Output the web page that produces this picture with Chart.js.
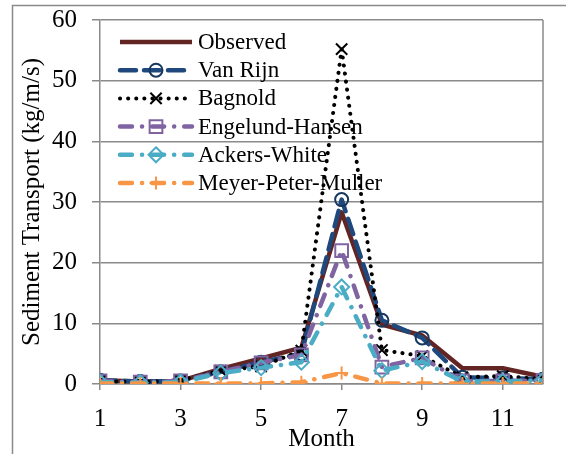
<!DOCTYPE html>
<html>
<head>
<meta charset="utf-8">
<script src="https://cdn.jsdelivr.net/npm/chart.js@4.4.1/dist/chart.umd.min.js"></script>
<style>
    html, body { margin: 0; padding: 0; background: #ffffff; }
    #wrap { width: 566px; height: 454px; }
</style>
</head>
<body>
<div id="wrap"><canvas id="chart" width="566" height="454"></canvas></div>
<script>
// sediment transport per month
const months = [1, 2, 3, 4, 5, 6, 7, 8, 9, 10, 11, 12];
const xTickMonths = [1, 3, 5, 7, 9, 11];
const yTicks = [0, 10, 20, 30, 40, 50, 60];

const observed = [0.6, 0.4, 0.5, 2.5, 4.2, 6.0, 28.3, 9.8, 8.0, 2.6, 2.6, 1.2];
const vanRijn = [0.6, 0.4, 0.5, 2.0, 3.6, 5.0, 30.4, 10.5, 7.6, 1.1, 1.0, 0.8];
const bagnold = [0.5, 0.3, 0.6, 2.2, 2.9, 5.5, 55.2, 5.6, 4.6, 1.1, 1.3, 0.8];
const engelundHansen = [0.5, 0.3, 0.5, 2.0, 3.5, 4.8, 22.0, 2.8, 4.3, 0.5, 0.5, 0.6];
const ackersWhite = [0.3, 0.2, 0.3, 1.8, 2.7, 3.6, 16.0, 2.2, 3.7, 0.4, 0.4, 0.6];
const meyerPeterMuller = [0.1, 0.1, 0.1, 0.1, 0.1, 0.3, 1.8, 0.1, 0.1, 0.1, 0.1, 0.1];

const FONT = "'Liberation Serif', 'Times New Roman', serif";
const GRID = "#8a8a8a";

const seriesDefs = [
    { label: "Observed", data: observed, color: "#632523", dash: [], marker: null },
    { label: "Van Rijn", data: vanRijn, color: "#1f497d", markerColor: "#17375e", dash: [16, 8], marker: "circle", r: 6.5 },
    { label: "Bagnold", data: bagnold, color: "#000000", dash: [0.1, 8], marker: "crossRot", r: 8, width: 4 },
    { label: "Engelund-Hansen", data: engelundHansen, color: "#8064a2", dash: [12, 10, 0.1, 10], marker: "rect", r: 9 },
    { label: "Ackers-White", data: ackersWhite, color: "#4bacc6", dash: [12, 10, 0.1, 10], marker: "rectRot", r: 7.5 },
    { label: "Meyer-Peter-Muller", data: meyerPeterMuller, color: "#f79646", dash: [12, 10, 0.1, 10], marker: "cross", r: 6.5 }
];

function drawMarker(ctx, style, x, y, r, color) {
    ctx.save();
    ctx.setLineDash([]);
    ctx.strokeStyle = color;
    ctx.lineWidth = 2;
    ctx.beginPath();
    if (style === "circle") {
        ctx.arc(x, y, r, 0, Math.PI * 2);
    } else if (style === "rect") {
        const s = r * Math.SQRT1_2;
        ctx.rect(x - s, y - s, 2 * s, 2 * s);
    } else if (style === "rectRot") {
        ctx.moveTo(x, y - r);
        ctx.lineTo(x + r, y);
        ctx.lineTo(x, y + r);
        ctx.lineTo(x - r, y);
        ctx.closePath();
    } else if (style === "crossRot") {
        const s = r * Math.SQRT1_2;
        ctx.moveTo(x - s, y - s);
        ctx.lineTo(x + s, y + s);
        ctx.moveTo(x - s, y + s);
        ctx.lineTo(x + s, y - s);
    } else if (style === "cross") {
        ctx.moveTo(x - r, y);
        ctx.lineTo(x + r, y);
        ctx.moveTo(x, y - r);
        ctx.lineTo(x, y + r);
    }
    ctx.stroke();
    ctx.restore();
}

const datasets = seriesDefs.map((s, i) => ({
    label: s.label,
    data: months.map((m, k) => ({ x: m, y: s.data[k] })),
    borderColor: s.color,
    borderWidth: s.width || 4.5,
    borderDash: s.dash,
    borderCapStyle: s.dash.length ? "round" : "butt",
    borderJoinStyle: "round",
    tension: 0,
    order: seriesDefs.length - i,
    pointStyle: s.marker || false,
    pointRadius: s.marker ? s.r : 0,
    pointBorderColor: s.markerColor || s.color,
    pointBackgroundColor: "rgba(0,0,0,0)",
    pointBorderWidth: 2
}));

const framePlugin = {
    id: "frame",
    beforeDraw(chart) {
        const { ctx } = chart;
        ctx.save();
        ctx.strokeStyle = GRID;
        ctx.lineWidth = 1.5;
        ctx.beginPath();
        ctx.moveTo(12.5, 460);
        ctx.lineTo(12.5, 5.5);
        ctx.lineTo(570, 5.5);
        ctx.stroke();
        ctx.restore();
    },
    afterDraw(chart) {
        const { ctx, chartArea } = chart;
        ctx.save();
        ctx.strokeStyle = GRID;
        ctx.lineWidth = 1.5;
        ctx.beginPath();
        ctx.moveTo(chartArea.right, chartArea.top);
        ctx.lineTo(chartArea.right, chartArea.bottom);
        ctx.stroke();
        ctx.restore();
    }
};

const legendPlugin = {
    id: "seriesLegend",
    afterDraw(chart) {
        const { ctx, chartArea } = chart;
        const x0 = chartArea.left + 20;
        const x1 = chartArea.left + 92;
        const xm = (x0 + x1) / 2;
        ctx.save();
        ctx.font = "23px " + FONT;
        ctx.fillStyle = "#000000";
        ctx.textBaseline = "middle";
        seriesDefs.forEach((s, i) => {
            const y = chartArea.top + 22 + i * 28.2;
            ctx.save();
            ctx.strokeStyle = s.color;
            ctx.lineWidth = s.width || 4.5;
            ctx.lineCap = s.dash.length ? "round" : "butt";
            ctx.setLineDash(s.dash);
            ctx.beginPath();
            ctx.moveTo(x0, y);
            ctx.lineTo(x1, y);
            ctx.stroke();
            ctx.restore();
            if (s.marker) drawMarker(ctx, s.marker, xm, y, s.r, s.markerColor || s.color);
            ctx.fillText(s.label, chartArea.left + 98, y + 1);
        });
        ctx.restore();
    }
};

new Chart(document.getElementById("chart"), {
    type: "line",
    data: { datasets },
    options: {
        responsive: false,
        animation: false,
        events: [],
        layout: { padding: { top: 20, right: 23, left: 0, bottom: 0 } },
        plugins: {
            legend: { display: false },
            tooltip: { enabled: false }
        },
        scales: {
            x: {
                type: "linear",
                min: 1,
                max: 12,
                afterBuildTicks: (axis) => {
                    axis.ticks = xTickMonths.map((v) => ({ value: v }));
                },
                afterFit: (scale) => { scale.height = 70; },
                grid: { drawOnChartArea: false, drawTicks: true, tickLength: 6, color: GRID, lineWidth: 1.5 },
                border: { color: GRID, width: 1.5 },
                ticks: { color: "#000000", font: { family: FONT, size: 25 }, padding: 14, maxRotation: 0 },
                title: { display: true, text: "Month", color: "#000000", font: { family: FONT, size: 25 }, padding: { top: 0, bottom: 0 } }
            },
            y: {
                min: 0,
                max: 60,
                afterBuildTicks: (axis) => {
                    axis.ticks = yTicks.map((v) => ({ value: v }));
                },
                afterFit: (scale) => {
                    scale.width = 100;
                    scale.paddingTop = 0;
                    scale.paddingBottom = 0;
                },
                grid: { color: GRID, lineWidth: 1.5, tickLength: 8 },
                border: { color: GRID, width: 1.5 },
                ticks: { color: "#000000", font: { family: FONT, size: 25 }, padding: 15 },
                title: { display: true, text: "Sediment Transport (kg/m/s)", color: "#000000", font: { family: FONT, size: 25 }, padding: { top: 17, bottom: 0 } }
            }
        }
    },
    plugins: [framePlugin, legendPlugin]
});
</script>
</body>
</html>
